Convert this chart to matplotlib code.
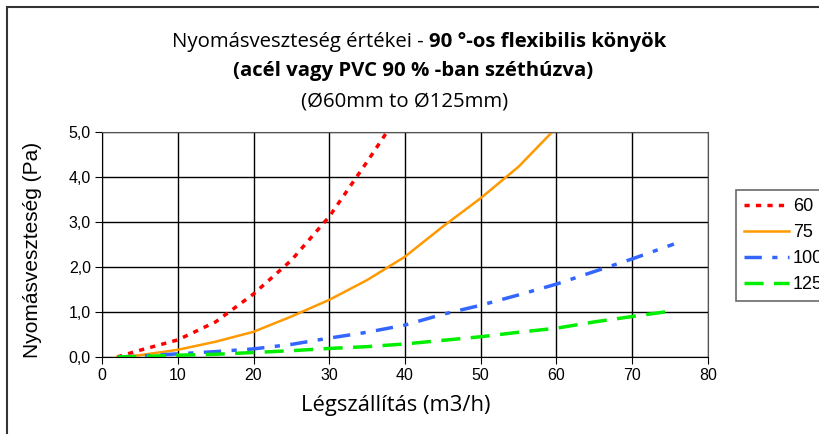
import matplotlib.pyplot as plt
from matplotlib.patches import Rectangle

plt.rcParams['font.family'] = ['Liberation Sans', 'DejaVu Sans']

# adatok (leolvasva)
x60 = [2, 5, 10, 15, 20, 25, 30, 35, 40]
y60 = [0.0, 0.15, 0.38, 0.78, 1.40, 2.15, 3.12, 4.34, 5.6]
x75 = [2, 5, 10, 15, 20, 25, 30, 35, 40, 45, 50, 55, 60]
y75 = [0.0, 0.04, 0.16, 0.34, 0.56, 0.90, 1.27, 1.71, 2.23, 2.90, 3.53, 4.23, 5.1]
x100 = [2, 5, 10, 15, 20, 25, 30, 35, 40, 45, 50, 55, 60, 65, 70, 75.5]
y100 = [0.0, 0.02, 0.07, 0.12, 0.18, 0.28, 0.42, 0.55, 0.71, 0.95, 1.15, 1.38, 1.62, 1.90, 2.18, 2.51]
x125 = [2, 5, 10, 15, 20, 25, 30, 35, 40, 45, 50, 55, 60, 65, 70, 75.5]
y125 = [0.0, 0.01, 0.04, 0.06, 0.10, 0.14, 0.19, 0.23, 0.29, 0.37, 0.45, 0.55, 0.64, 0.78, 0.90, 1.03]

xticks = [0, 10, 20, 30, 40, 50, 60, 70, 80]
yticks = [0, 1, 2, 3, 4, 5]
yticklabels = ['0,0', '1,0', '2,0', '3,0', '4,0', '5,0']

fig = plt.figure(figsize=(8.2, 4.34), dpi=100)
ax = fig.add_axes([102/820, 1-357/434, 606/820, 225/434])

# keret a kep korul
fig.patches.append(Rectangle((7/820, -0.1), 1.2, 1-7/434+0.1, transform=fig.transFigure,
                             fill=False, edgecolor='#333333', linewidth=1.5))

ax.plot(x60, y60, color='#FF0000', linewidth=2.5, linestyle=(0, (1.5, 1.8)), label='60')
ax.plot(x75, y75, color='#FF9900', linewidth=1.8, linestyle='-', label='75')
ax.plot(x100, y100, color='#3366FF', linewidth=2.5, linestyle=(0, (5, 3, 1.5, 3)), label='100')
ax.plot(x125, y125, color='#00EE00', linewidth=2.5, linestyle=(0, (5.5, 3)), label='125')

ax.set_xlim(0, 80)
ax.set_ylim(0, 5)
ax.set_xticks(xticks)
ax.set_yticks(yticks)
ax.set_yticklabels(yticklabels)
ax.grid(True, color='black', linewidth=1)
ax.set_axisbelow(True)
for s in ax.spines.values():
    s.set_color('#555555')
ax.spines['left'].set_color('black')
ax.spines['bottom'].set_color('black')
ax.tick_params(labelsize=11.5, length=5, direction='out', pad=3)

tf = ['Open Sans', 'DejaVu Sans']
fig.text(396/820, 1-405/434, 'Légszállítás (m3/h)', fontsize=15.8, family=tf, ha='center', va='center')
fig.text(33/820, 1-250/434, 'Nyomásveszteség (Pa)', fontsize=15, rotation=90, ha='center', va='center')

leg = ax.legend(loc='upper left', bbox_to_anchor=(736/820, 1-190/434), bbox_transform=fig.transFigure,
                fontsize=13, frameon=True, fancybox=False, borderaxespad=0, handlelength=2.5,
                labelspacing=0.5, borderpad=0.45, handletextpad=0.2)
leg.get_frame().set_edgecolor('#444444')
leg.get_frame().set_linewidth(1.2)

# cim: vegyes betuvastagsag
t1 = fig.text(0, 1-42/434, 'Nyomásveszteség értékei - ', fontsize=14.7, family=tf, va='center')
t2 = fig.text(0, 1-42/434, '90 °-os flexibilis könyök', fontsize=14.7, family=tf,
              fontweight='bold', va='center')
fig.canvas.draw()
r = fig.canvas.get_renderer()
w1 = t1.get_window_extent(r).width
w2 = t2.get_window_extent(r).width
x0 = 419 - (w1 + w2) / 2
t1.set_x(x0 / 820)
t2.set_x((x0 + w1) / 820)
fig.text(413/820, 1-71/434, '(acél vagy PVC 90 % -ban széthúzva)', fontsize=14.7, family=tf,
         fontweight='bold', ha='center', va='center')
fig.text(405/820, 1-102/434, '(Ø60mm to Ø125mm)', fontsize=14.7, family=tf, ha='center', va='center')

fig.savefig('out.png', dpi=100)
